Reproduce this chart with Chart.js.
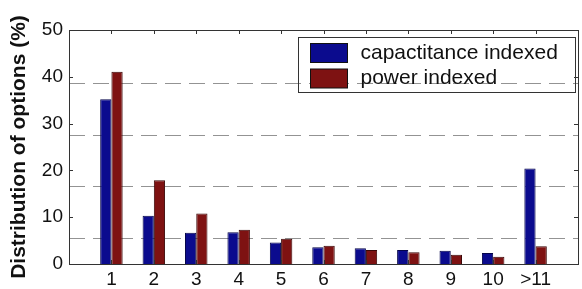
<!DOCTYPE html>
<html>
<head>
<meta charset="utf-8">
<script src="https://cdn.jsdelivr.net/npm/chart.js@4.4.1/dist/chart.umd.min.js"></script>
<style>
html,body{margin:0;padding:0;background:#fff;}
#wrap{width:582px;height:289px;position:relative;}
</style>
</head>
<body>
<div id="wrap"><canvas id="c" width="582" height="289"></canvas></div>
<script>
const categories = ['1','2','3','4','5','6','7','8','9','10','>11'];
const capacitanceIndexed = [35.2, 10.3, 6.7, 6.8, 4.6, 3.6, 3.35, 3.0, 2.85, 2.35, 20.4];
const powerIndexed = [41.1, 17.9, 10.8, 7.3, 5.4, 3.9, 3.0, 2.5, 2.0, 1.55, 3.8];
const yTicks = [0, 10, 20, 30, 40, 50];
const gridValues = [5.5, 16.5, 27.4, 38.6];
const seriesNames = ['capactitance indexed', 'power indexed'];

const FONT = '"Liberation Sans", Arial, sans-serif';

const toPoints = arr => arr.map((v, i) => ({x: i + 1, y: v}));

const framePlugin = {
  id: 'frame',
  afterDraw(chart) {
    const ctx = chart.ctx;
    const a = chart.chartArea;
    const xs = chart.scales.x, ys = chart.scales.y;
    ctx.save();
    ctx.strokeStyle = '#333';
    ctx.lineWidth = 1;
    ctx.strokeRect(Math.round(a.left) + 0.5, Math.round(a.top) + 0.5,
                   Math.round(a.right - a.left), Math.round(a.bottom - a.top));
    const tl = 4;
    ctx.beginPath();
    categories.forEach((c, i) => {
      const px = Math.round(xs.getPixelForValue(i + 1)) + 0.5;
      ctx.moveTo(px, a.top); ctx.lineTo(px, a.top + tl);
      ctx.moveTo(px, a.bottom); ctx.lineTo(px, a.bottom - tl);
    });
    yTicks.forEach(v => {
      const py = Math.round(ys.getPixelForValue(v)) + 0.5;
      ctx.moveTo(a.left, py); ctx.lineTo(a.left + tl, py);
      ctx.moveTo(a.right, py); ctx.lineTo(a.right - tl, py);
    });
    ctx.stroke();

    // legend
    const bx = Math.round(a.right - 280) + 0.5, by = Math.round(a.top + 7) + 0.5;
    const bw = 277, bh = 55;
    ctx.strokeStyle = '#333';
    ctx.strokeRect(bx, by, bw, bh);
    const rows = [by + 15.5, by + 41];
    chart.data.datasets.forEach((ds, i) => {
      const cy = rows[i];
      ctx.fillStyle = ds.backgroundColor;
      ctx.fillRect(bx + 12, cy - 9.5, 37, 19);
      ctx.strokeStyle = '#111';
      ctx.strokeRect(bx + 12, cy - 9.5, 37, 19);
      ctx.fillStyle = '#111';
      ctx.font = '21px ' + FONT;
      ctx.textBaseline = 'middle';
      ctx.textAlign = 'left';
      ctx.fillText(ds.label, bx + 62, cy);
    });
    ctx.restore();
  }
};

new Chart(document.getElementById('c'), {
  type: 'bar',
  data: {
    datasets: [
      {label: seriesNames[0], data: toPoints(capacitanceIndexed),
       backgroundColor: '#0b0b8e', borderColor: '#05054a', borderWidth: 1},
      {label: seriesNames[1], data: toPoints(powerIndexed),
       backgroundColor: '#7e1212', borderColor: '#3a0606', borderWidth: 1}
    ]
  },
  options: {
    responsive: false,
    animation: false,
    devicePixelRatio: 1,
    layout: {padding: {top: 30, right: 4, left: 0, bottom: 0}},
    categoryPercentage: 0.53,
    barPercentage: 1.0,
    plugins: {legend: {display: false}, tooltip: {enabled: false}},
    scales: {
      x: {
        type: 'linear', min: 0, max: 12, offset: false,
        afterBuildTicks: s => { s.ticks = categories.map((c, i) => ({value: i + 1})); },
        afterFit: s => { s.height = 25; },
        grid: {display: false, drawTicks: false, offset: false},
        border: {display: false},
        ticks: {
          callback: v => categories[v - 1] ?? '',
          color: '#111', font: {family: FONT, size: 19}, padding: 4,
          maxRotation: 0, autoSkip: false
        }
      },
      y: {
        min: 0, max: 50,
        afterBuildTicks: s => { s.ticks = yTicks.map(v => ({value: v})); },
        afterFit: s => { s.width = 69; },
        grid: {display: false, drawTicks: false},
        border: {display: false},
        ticks: {color: '#111', font: {family: FONT, size: 19}, padding: 6},
        title: {display: true, text: 'Distribution of options (%)', color: '#111',
                font: {family: FONT, size: 21, weight: 'bold'}, padding: {top: 7, bottom: 0}}
      },
      yg: {
        position: 'left', min: 0, max: 50,
        afterBuildTicks: s => { s.ticks = gridValues.map(v => ({value: v})); },
        afterFit: s => { s.width = 0; },
        grid: {display: true, drawTicks: false, color: '#939393', lineWidth: 1},
        border: {display: false, dash: [16, 8]},
        ticks: {display: false}
      }
    }
  },
  plugins: [framePlugin]
});
</script>
</body>
</html>
